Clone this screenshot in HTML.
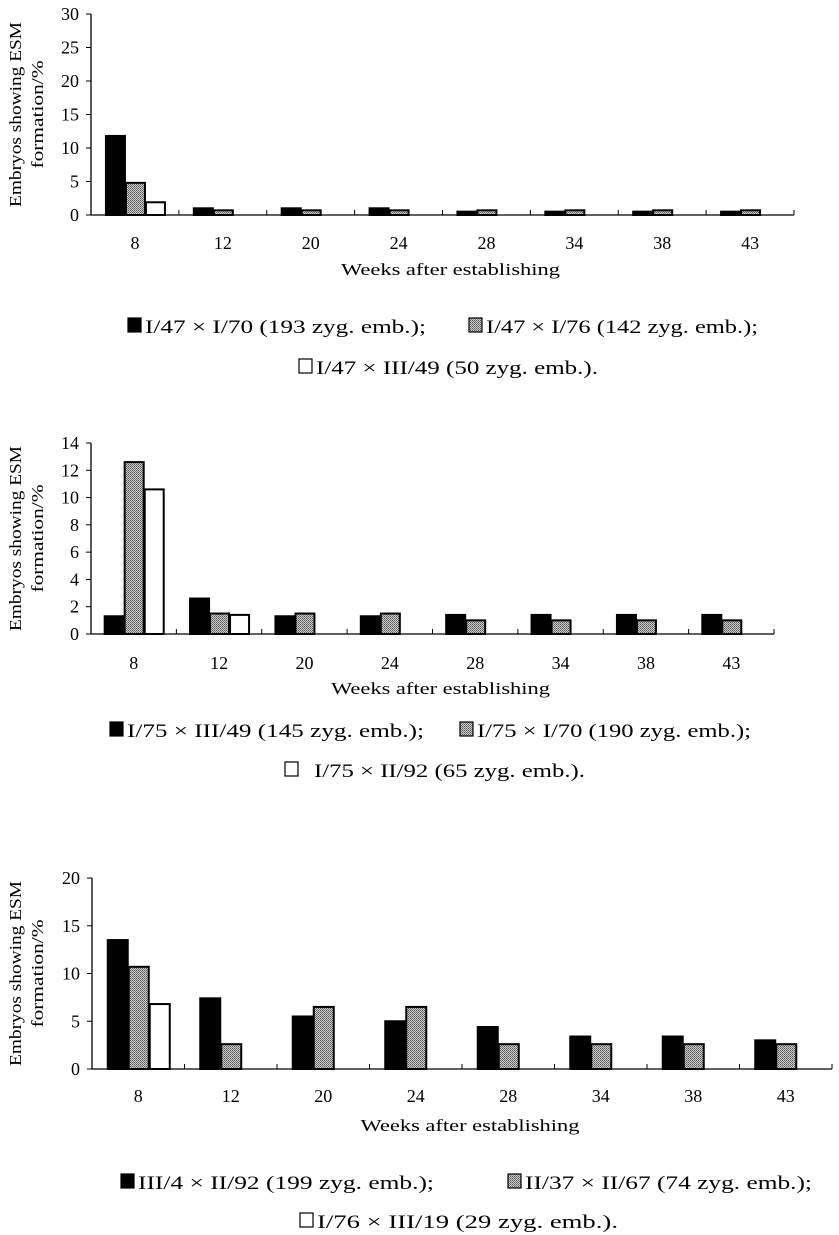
<!DOCTYPE html>
<html><head><meta charset="utf-8"><style>
html,body{margin:0;padding:0;background:#fff;}
svg{display:block;}
text{font-family:"Liberation Serif","Noto Serif CJK SC",serif;fill:#000;}
</style></head><body>
<svg id="fig" width="839" height="1235" viewBox="0 0 839 1235" xmlns="http://www.w3.org/2000/svg">
<defs>
<pattern id="chk" width="2" height="2" patternUnits="userSpaceOnUse">
<rect width="2" height="2" fill="#cfcfcf"/><rect width="1" height="1" fill="#555"/><rect x="1" y="1" width="1" height="1" fill="#777"/>
</pattern>
</defs>
</svg>
<script>
const categories = ['8','12','20','24','28','34','38','43'];
const c1Black = [11.8,1.0,1.0,1.0,0.5,0.5,0.5,0.5];
const c1Grey  = [4.8,0.7,0.7,0.7,0.7,0.7,0.7,0.7];
const c1White = [1.9,0,0,0,0,0,0,0];
const c1Ticks = [0,5,10,15,20,25,30];
const c2Black = [1.3,2.6,1.3,1.3,1.4,1.4,1.4,1.4];
const c2Grey  = [12.6,1.5,1.5,1.5,1.0,1.0,1.0,1.0];
const c2White = [10.6,1.4,0,0,0,0,0,0];
const c2Ticks = [0,2,4,6,8,10,12,14];
const c3Black = [13.5,7.4,5.5,5.0,4.4,3.4,3.4,3.0];
const c3Grey  = [10.7,2.6,6.5,6.5,2.6,2.6,2.6,2.6];
const c3White = [6.8,0,0,0,0,0,0,0];
const c3Ticks = [0,5,10,15,20];
const c1Legend = ['I/47 × I/70 (193 zyg. emb.);','I/47 × I/76 (142 zyg. emb.);','I/47 × III/49 (50 zyg. emb.).'];
const c2Legend = ['I/75 × III/49 (145 zyg. emb.);','I/75 × I/70 (190 zyg. emb.);','I/75 × II/92 (65 zyg. emb.).'];
const c3Legend = ['III/4 × II/92 (199 zyg. emb.);','II/37 × II/67 (74 zyg. emb.);','I/76 × III/19 (29 zyg. emb.).'];

const NS='http://www.w3.org/2000/svg';
const svg=document.getElementById('fig');
function mk(tag,attrs,parent){const e=document.createElementNS(NS,tag);for(const k in attrs)e.setAttribute(k,attrs[k]);(parent||svg).appendChild(e);return e;}

const charts=[
 {id:1,x0:91,x1:794,y0:215,yTop:14,max:30,ticks:c1Ticks,series:[c1Black,c1Grey,c1White],bw:20,xl:249,title:275,
  leg:c1Legend,l1:333,l2:374,pos:[[128,145,426],[469,486,758],[299,316,598]]},
 {id:2,x0:91,x1:774,y0:634,yTop:443,max:14,ticks:c2Ticks,series:[c2Black,c2Grey,c2White],bw:20,xl:669,title:694,
  leg:c2Legend,l1:737,l2:777,pos:[[110,127,424],[460,477,751],[285,314,585]]},
 {id:3,x0:92,x1:832,y0:1069,yTop:878,max:20,ticks:c3Ticks,series:[c3Black,c3Grey,c3White],bw:21,xl:1102,title:1131,
  leg:c3Legend,l1:1189,l2:1228,pos:[[121,138,434],[508,525,812],[300,317,618]]}
];
const fills=['#000','url(#chk)','#fff'];
const sNames=['black','grey','white'];

charts.forEach(c=>{
  const g=mk('g',{});
  
  
  const n=categories.length, step=(c.x1-c.x0)/n;
  const y=v=>c.y0-(v/c.max)*(c.y0-c.yTop);
  const xc=i=>c.x0+step*(i+0.5);
  c.series.forEach((s,si)=>{
    s.forEach((v,i)=>{
      if(v<=0) return;
      const bx=xc(i)-1.5*c.bw+si*c.bw;
      const r=mk('rect',{x:bx+1,y:y(v),width:c.bw-1,height:c.y0-y(v),fill:fills[si],stroke:'#000','stroke-width':2},g);
      
      
    });
  });
  const ya=mk('line',{x1:c.x0,y1:c.yTop,x2:c.x0,y2:c.y0,stroke:'#000','stroke-width':1.3},g);
  
  const xa=mk('line',{x1:c.x0,y1:c.y0,x2:c.x1,y2:c.y0,stroke:'#000','stroke-width':1.3},g);
  
  c.ticks.forEach(t=>{
    mk('line',{x1:c.x0-5,y1:y(t),x2:c.x0,y2:y(t),stroke:'#000','stroke-width':1},g);
    const tl=mk('text',{x:c.x0-12,y:y(t)+6,'text-anchor':'end','font-size':18},g);
    tl.textContent=t;
    
  });
  for(let i=1;i<=n;i++){const tx=c.x0+step*i;mk('line',{x1:tx,y1:c.y0,x2:tx,y2:c.y0-5,stroke:'#000','stroke-width':1},g);}
  categories.forEach((cat,i)=>{
    const t=mk('text',{x:xc(i),y:c.xl,'text-anchor':'middle','font-size':18},g);
    t.textContent=cat;
    
  });
  const xt=mk('text',{x:(c.x0+c.x1)/2+8,y:c.title,'text-anchor':'middle','font-size':17,textLength:219,lengthAdjust:'spacingAndGlyphs'},g);
  xt.textContent='Weeks after establishing';
  
  const cy=(c.y0+c.yTop)/2;
  const yt=mk('text',{transform:`translate(21,${cy}) rotate(-90)`,'text-anchor':'middle','font-size':17,textLength:185,lengthAdjust:'spacingAndGlyphs'},g);
  yt.textContent='Embryos showing ESM';
  
  const yt2=mk('text',{transform:`translate(43,${cy}) rotate(-90)`,'text-anchor':'middle','font-size':17,textLength:108,lengthAdjust:'spacingAndGlyphs'},g);
  yt2.textContent='formation/%';
  
  c.leg.forEach((lab,li)=>{
    const [a,ts,b]=c.pos[li];
    const ly=li<2?c.l1:c.l2;
    const le=mk('g',{},g);
    
    
    mk('rect',{x:a,y:ly-15,width:13,height:14,fill:fills[li],stroke:'#000','stroke-width':1.2},le);
    const t=mk('text',{x:ts,y:ly,'font-size':19,textLength:b-ts,lengthAdjust:'spacingAndGlyphs'},le);
    t.textContent=lab;
  });
});
</script>
</body></html>
